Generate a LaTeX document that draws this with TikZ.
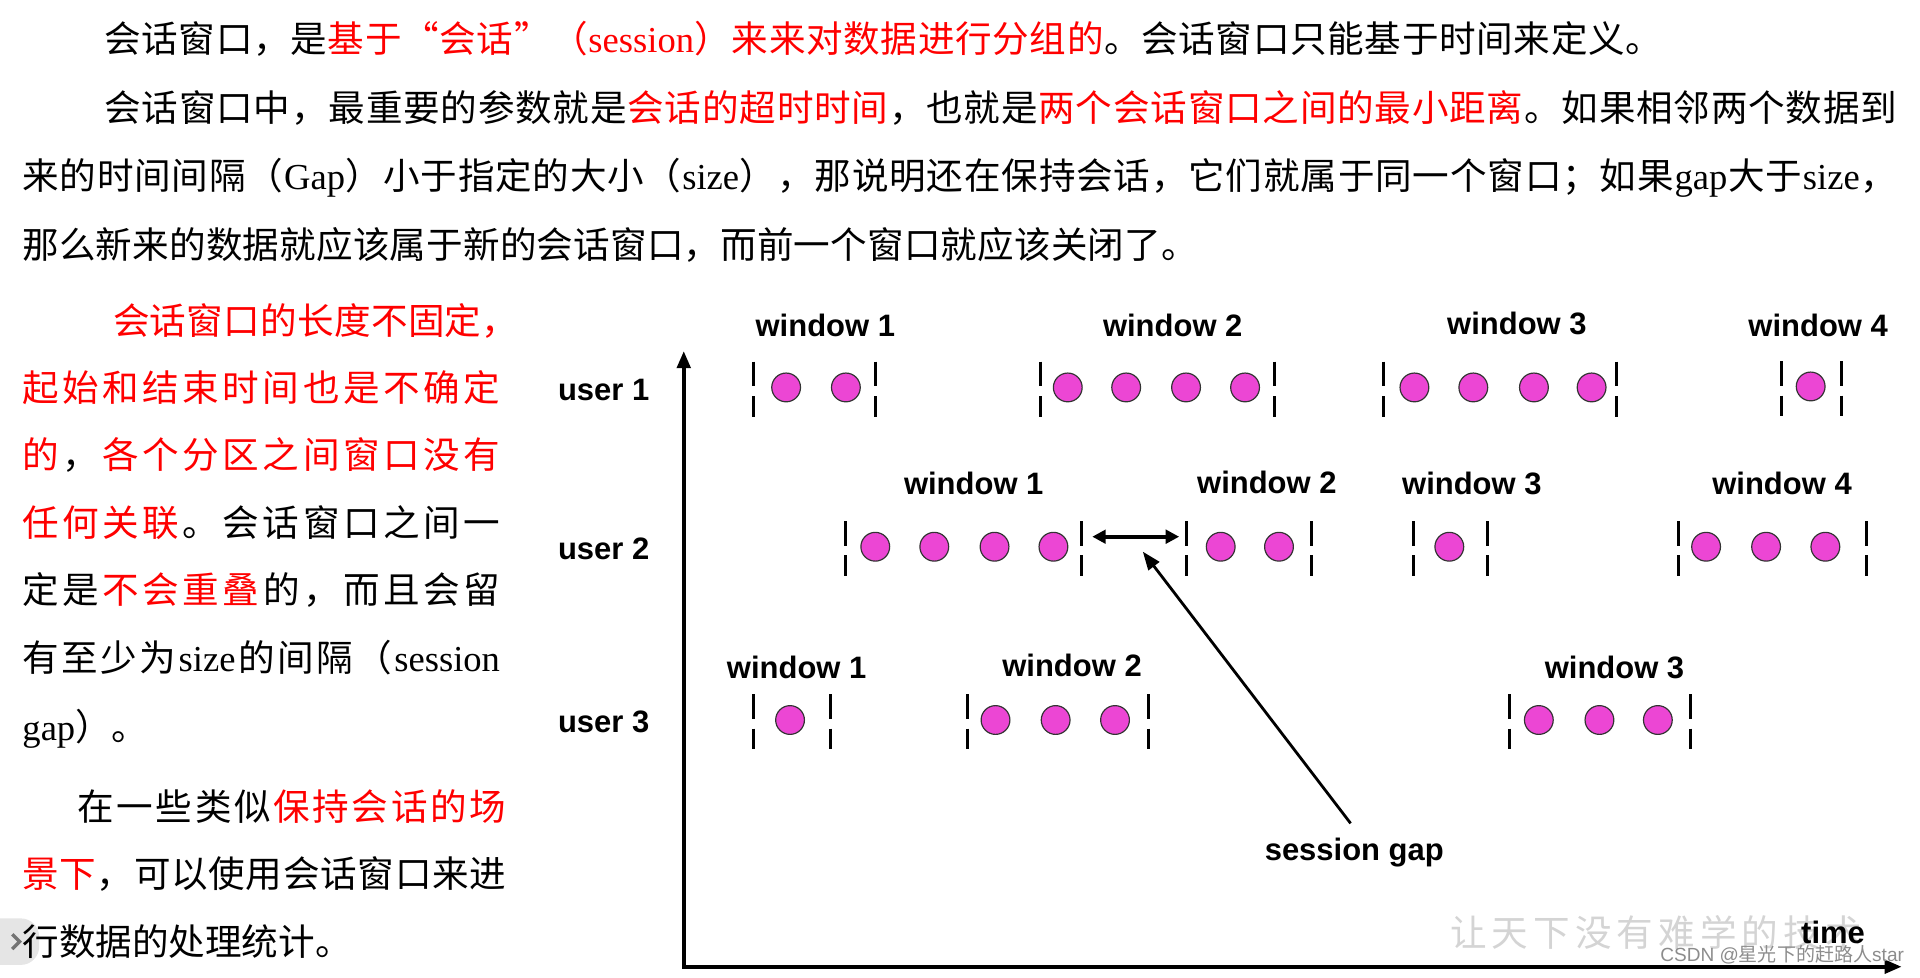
\documentclass[tikz,border=0pt]{standalone}
\usepackage{fontspec}
\setmainfont{Noto Sans CJK SC}
\newfontfamily\lat{Liberation Serif}
\newfontfamily\arl{Liberation Sans}
\usetikzlibrary{arrows.meta}
\definecolor{dotpink}{RGB}{236,70,212}
\newdimen\pu \pu=0.02cm
\def\rd{\color{red}}
\def\bk{\color{black}}
\def\spreadrest#1{\ifx\relax#1\else\ifx\rd#1\rd\else\ifx\bk#1\bk\else\hfil{#1}\fi\fi\expandafter\spreadrest\fi}
\newcommand\spreadline[2]{\hbox to #1{\hskip 0pt plus -1fil\spreadrest#2\relax}}
\newcommand\wbar[2]{\draw[bar] (#1,#2-21) -- (#1,#2-1) (#1,#2+7) -- (#1,#2+24);}
\begin{document}
\begin{tikzpicture}[x=0.02cm,y=-0.02cm,
  body/.style={inner sep=0pt, anchor=base west, font=\fontsize{17}{20}\selectfont},
  lbl/.style={inner sep=0pt, anchor=base, font=\arl\bfseries\fontsize{14.4}{17}\selectfont},
  dot/.style={circle, draw=black!80, line width=0.55pt, fill=dotpink, minimum size=0.47cm, inner sep=0pt},
  bar/.style={line width=1.4pt},
  axis/.style={line width=1.75pt, line join=miter},
  tipA/.style={{Triangle[length=0.28cm,width=0.22cm]}-{Triangle[length=0.28cm,width=0.22cm]}},
]
\useasboundingbox (0,0) rectangle (1568,798);

% faint watermark behind
\node[inner sep=0pt, anchor=base west, text=black!17, font=\fontsize{17}{20}\selectfont] (wm) at (1184,773) {\spreadline{336\pu}{让天下没有难学的技术}};

% side tab
\fill[black!10, rounded corners=0.3cm] (-30,750) rectangle (32,788);
\draw[black!55, line width=1.6pt] (10,763) -- (16,769) -- (10,775);

% top paragraph
\node[body] (t1) at (85,43) {\spreadline{1272\pu}{会话窗口，是\rd 基于“会话”（{\lat session}）来来对数据进行分组的\bk 。会话窗口只能基于时间来定义。}};
\node[body] (t2) at (85,99) {\spreadline{1464\pu}{会话窗口中，最重要的参数就是\rd 会话的超时时间\bk ，也就是\rd 两个会话窗口之间的最小距离\bk 。如果相邻两个数据到}};
\node[body] (t3) at (18,155) {\spreadline{1531\pu}{来的时间间隔（{\lat Gap}）小于指定的大小（{\lat size}），那说明还在保持会话，它们就属于同一个窗口；如果{\lat gap}大于{\lat size}，}};
\node[body] (t4) at (18,211) {\spreadline{960\pu}{那么新来的数据就应该属于新的会话窗口，而前一个窗口就应该关闭了。}};

% left column
\node[body] (l1) at (92,273) {\spreadline{331\pu}{\rd 会话窗口的长度不固定，}};
\node[body] (l2) at (18,328) {\spreadline{390\pu}{\rd 起始和结束时间也是不确定}};
\node[body] (l3) at (18,383) {\spreadline{390\pu}{\rd 的\bk ，\rd 各个分区之间窗口没有}};
\node[body] (l4) at (18,438) {\spreadline{390\pu}{\rd 任何关联\bk 。会话窗口之间一}};
\node[body] (l5) at (18,493) {\spreadline{390\pu}{定是\rd 不会重叠\bk 的，而且会留}};
\node[body] (l6) at (18,548) {\spreadline{390\pu}{有至少为{\lat size}的间隔（{\lat session}}};
\node[body] (l7) at (18,605) {{\lat gap}）。};
\node[body] (l8) at (63,670) {\spreadline{350\pu}{在一些类似\rd 保持会话的场}};
\node[body] (l9) at (18,725) {\spreadline{395\pu}{\rd 景下\bk ，可以使用会话窗口来进}};
\node[body] (l10) at (18,780) {行数据的处理统计。};

% axes
\coordinate (O) at (558.4,789.5);
\coordinate (ytop) at (558.4,286.7);
\coordinate (xend) at (1553,789.5);
\draw[axis, tipA] (ytop) -- (O) -- (xend);

% user labels
\node[lbl] (u1) at (493,327) {user 1};
\node[lbl] (u2) at (493,457) {user 2};
\node[lbl] (u3) at (493,598) {user 3};

% row 1
\node[lbl] (a1) at (674,275) {window 1};
\node[lbl] (a2) at (957.7,275) {window 2};
\node[lbl] (a3) at (1238.8,273.5) {window 3};
\node[lbl] (a4) at (1484.8,275) {window 4};
\wbar{615.2}{316.4}\wbar{714.6}{316.4}
\wbar{850.1}{316.4}\wbar{1040.8}{316.4}
\wbar{1130}{316.4}\wbar{1320.1}{316.4}
\wbar{1455.1}{316}\wbar{1503.9}{316}
\foreach \x [count=\i] in {642,690.8} {\node[dot] (a1c\i) at (\x,316.4) {};}
\foreach \x [count=\i] in {872,919.7,968.6,1016.8} {\node[dot] (a2c\i) at (\x,316.4) {};}
\foreach \x [count=\i] in {1155.1,1203.2,1252.7,1299.8} {\node[dot] (a3c\i) at (\x,316.4) {};}
\node[dot] (a4c1) at (1478.7,315.6) {};

% row 2
\node[lbl] (b1) at (795.2,404) {window 1};
\node[lbl] (b2) at (1034.6,403) {window 2};
\node[lbl] (b3) at (1202,403.5) {window 3};
\node[lbl] (b4) at (1455.3,403.5) {window 4};
\wbar{690.7}{446.5}\wbar{883.3}{446.5}
\wbar{968.6}{446.5}\wbar{1070.8}{446.5}
\wbar{1154.4}{446.5}\wbar{1215.1}{446.5}
\wbar{1370.7}{446.5}\wbar{1524.5}{446.5}
\foreach \x [count=\i] in {714.8,763,812.2,860.3} {\node[dot] (b1c\i) at (\x,446.5) {};}
\foreach \x [count=\i] in {996.9,1044.5} {\node[dot] (b2c\i) at (\x,446.5) {};}
\node[dot] (b3c1) at (1183.6,446.5) {};
\foreach \x [count=\i] in {1393.3,1442.3,1490.7} {\node[dot] (b4c\i) at (\x,446.5) {};}

% row 3
\node[lbl] (c1) at (650.6,554) {window 1};
\node[lbl] (c2) at (875.5,552.5) {window 2};
\node[lbl] (c3) at (1318.5,554) {window 3};
\wbar{615.3}{588}\wbar{678}{588}
\wbar{790}{588}\wbar{937.6}{588}
\wbar{1232.4}{588}\wbar{1380.5}{588}
\node[dot] (c1c1) at (645.2,588) {};
\foreach \x [count=\i] in {813,862.1,910.6} {\node[dot] (c2c\i) at (\x,588) {};}
\foreach \x [count=\i] in {1256.7,1306.2,1353.9} {\node[dot] (c3c\i) at (\x,588) {};}

% session gap
\coordinate (gapL) at (892,438.3);
\coordinate (gapR) at (963,438.3);
\draw[line width=1.7pt, {Triangle[length=0.22cm,width=0.22cm]}-{Triangle[length=0.22cm,width=0.22cm]}] (gapL) -- (gapR);
\node[lbl] (sg) at (1106,703) {session gap};
\coordinate (sgtop) at (1103,672.4);
\coordinate (gaptip) at (933.3,450.5);
\draw[line width=1.3pt, -{Triangle[length=0.3cm,width=0.22cm]}] (sgtop) -- (gaptip);

\node[lbl] (time) at (1497,770.4) {time};

% CSDN overlay
\node[inner sep=0pt, anchor=base west, text=black!45, font=\fontsize{8.85}{10}\selectfont] (csdn) at (1355.6,785) {{\arl CSDN @}星光下的赶路人{\arl star}};
\end{tikzpicture}
\end{document}
